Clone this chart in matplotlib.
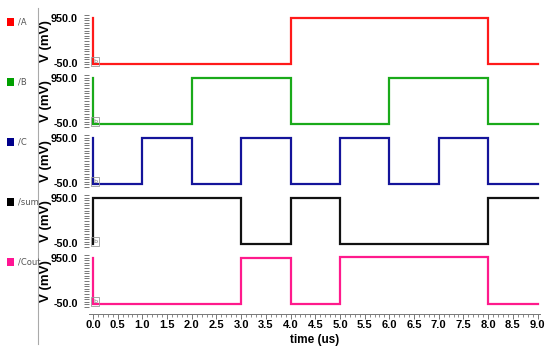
import matplotlib
matplotlib.use("Agg")
import matplotlib.pyplot as plt
import matplotlib.transforms as mtransforms
from matplotlib.patches import Rectangle
from matplotlib.lines import Line2D
from matplotlib.ticker import MultipleLocator, FixedLocator

# signal data (time in us, voltage in mV), drawn as post-steps
names = ["/A", "/B", "/C", "/sum", "/Cout"]
colors = ["#ff1a1a", "#1aaa1a", "#14149a", "#111111", "#ff1a8c"]
legend_colors = ["#ff0000", "#00a000", "#00008b", "#000000", "#ff1493"]

A_t = [0, 0.01, 4, 8, 9]
A_v = [900, 0, 900, 0, 0]
B_t = [0, 0.01, 2, 4, 6, 8, 9]
B_v = [900, 0, 900, 0, 900, 0, 0]
C_t = [0, 0.01, 1, 2, 3, 4, 5, 6, 7, 8, 9]
C_v = [900, 0, 900, 0, 900, 0, 900, 0, 900, 0, 0]
sum_t = [0, 0.01, 3, 4, 5, 8, 9]
sum_v = [0, 900, 0, 900, 0, 900, 900]
cout_t = [0, 0.01, 2, 3, 4, 5, 8, 9]
cout_v = [900, 0, 10, 890, 0, 910, 0, 0]

y_ticks = [-50, 950]
y_ticklabels = ["-50.0", "950.0"]
x_ticks = [x * 0.5 for x in range(19)]

signals = [(A_t, A_v), (B_t, B_v), (C_t, C_v), (sum_t, sum_v), (cout_t, cout_v)]

W, H = 550, 350
fig = plt.figure(figsize=(5.5, 3.5), dpi=100)

left_px, right_px = 89, 540
tops = [15, 75, 135, 195, 255]
panel_h = 52

lab_font = dict(family="Liberation Sans", weight="bold")

for i, ((t, v), name) in enumerate(zip(signals, names)):
    top = tops[i]
    ax = fig.add_axes([left_px / W, 1 - (top + panel_h) / H,
                       (right_px - left_px) / W, panel_h / H])
    ax.step(t, v, where="post", color=colors[i], lw=1.6, solid_joinstyle="miter")
    ax.set_xlim(-0.08, 9.05)
    ax.set_ylim(-50, 950)
    for s in ["top", "right", "left"]:
        ax.spines[s].set_visible(False)
    ax.yaxis.set_major_locator(FixedLocator(y_ticks))
    ax.yaxis.set_minor_locator(MultipleLocator(50))
    ax.set_yticklabels(y_ticklabels, fontsize=7.8, **lab_font)
    ax.tick_params(axis="y", which="both", direction="out", length=3.6,
                   width=0.7, color="#777777", pad=4.5)
    # pull the end labels slightly inward so neighbouring panels don't collide
    lbls = ax.get_yticklabels()
    lbls[0].set_transform(lbls[0].get_transform() +
                          mtransforms.ScaledTranslation(0, 3 / 72, fig.dpi_scale_trans))
    lbls[1].set_transform(lbls[1].get_transform() +
                          mtransforms.ScaledTranslation(0, -2 / 72, fig.dpi_scale_trans))
    ax.set_ylabel("V (mV)", fontsize=9.5, **lab_font)
    ax.yaxis.set_label_coords(-0.083, 0.5)

    # small marker box at start of each trace
    ax.text(0.014, 0.1, "b", transform=ax.transAxes, fontsize=4.5,
            color="#777777", ha="center", va="center",
            bbox=dict(boxstyle="square,pad=0.3", fc="none", ec="#999999", lw=0.6))

    if i < len(signals) - 1:
        ax.spines["bottom"].set_visible(False)
        ax.set_xticks([])
    else:
        ax.spines["bottom"].set_position(("outward", 5))
        ax.spines["bottom"].set_color("#777777")
        ax.spines["bottom"].set_linewidth(0.7)
        ax.xaxis.set_minor_locator(MultipleLocator(0.1))
        ax.set_xticks(x_ticks)
        ax.set_xticklabels([f"{x:.1f}" for x in x_ticks], fontsize=8, **lab_font)
        ax.tick_params(axis="x", which="major", length=3.6, width=0.7,
                       color="#777777", pad=1)
        ax.tick_params(axis="x", which="minor", length=2.2, width=0.6,
                       color="#777777")
        ax.set_xlabel("time (us)", fontsize=8.5, labelpad=3, **lab_font)

    # legend entry on the left
    sq_top = [18, 78, 138, 198, 258][i]
    fig.patches.append(Rectangle((7 / W, 1 - (sq_top + 8) / H), 7 / W, 8 / H,
                                 transform=fig.transFigure,
                                 fc=legend_colors[i], ec="none"))
    fig.text(18 / W, 1 - (sq_top + 4) / H, name, fontsize=6, color="#555555",
             va="center", ha="left", family="DejaVu Sans")

# separator line between legend and plots
fig.add_artist(Line2D([38 / W, 38 / W], [1 - 8 / H, 1 - 344 / H],
                      transform=fig.transFigure, color="#aaaaaa", lw=0.8))

fig.savefig("out.png", dpi=100)
